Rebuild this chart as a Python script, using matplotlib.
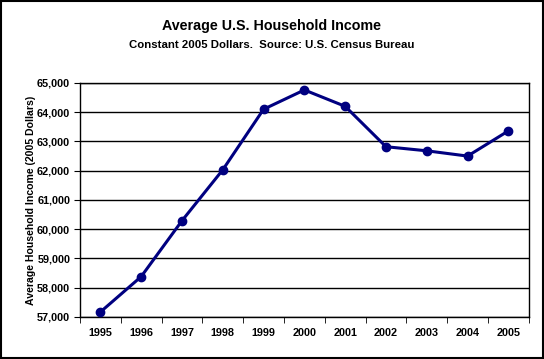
import numpy as np
import matplotlib.pyplot as plt
from matplotlib.patches import Rectangle

plt.rcParams['font.family'] = ['Liberation Sans', 'DejaVu Sans']

# Data
years = ['1995', '1996', '1997', '1998', '1999', '2000',
         '2001', '2002', '2003', '2004', '2005']
income = [57170, 58380, 60290, 62030, 64100, 64760,
          64200, 62820, 62680, 62500, 63360]
yticks = [57000, 58000, 59000, 60000, 61000, 62000, 63000, 64000, 65000]

fig = plt.figure(figsize=(5.44, 3.59), dpi=100)
ax = fig.add_axes([0.147, 0.117, 0.825, 0.652])

x = np.arange(len(years))
ax.plot(x, income, color='#000080', linewidth=2.2, marker='o',
        markersize=6, zorder=3)

ax.set_xlim(-0.5, len(years) - 0.5)
ax.set_ylim(57000, 65000)
ax.set_yticks(yticks)
ax.set_yticklabels([f'{v:,}' for v in yticks], fontsize=7.8, fontweight='bold')
ax.set_xticks(x)
ax.set_xticklabels(years, fontsize=7.8, fontweight='bold')
ax.tick_params(axis='x', length=0, pad=8)
ax.set_xticks(np.arange(-0.5, len(years)), minor=True)
ax.tick_params(axis='x', which='minor', length=4, direction='out', color='black')
ax.tick_params(axis='y', length=4, direction='out', color='black', pad=3)
ax.grid(axis='y', color='black', linewidth=1)
for s in ax.spines.values():
    s.set_color('black')
    s.set_linewidth(1)

ax.set_ylabel('Average Household Income (2005 Dollars)', fontsize=7.6,
              fontweight='bold', labelpad=1)

fig.text(0.5, 0.927, 'Average U.S. Household Income', ha='center', va='center',
         fontsize=10.3, fontweight='bold')
fig.text(0.5, 0.874, 'Constant 2005 Dollars.  Source: U.S. Census Bureau',
         ha='center', va='center', fontsize=8.2, fontweight='bold')

fig.patches.append(Rectangle((0.001, 0.002), 0.997, 0.995, transform=fig.transFigure,
                             fill=False, edgecolor='black', linewidth=1.5))

fig.savefig('out.png', dpi=100)
